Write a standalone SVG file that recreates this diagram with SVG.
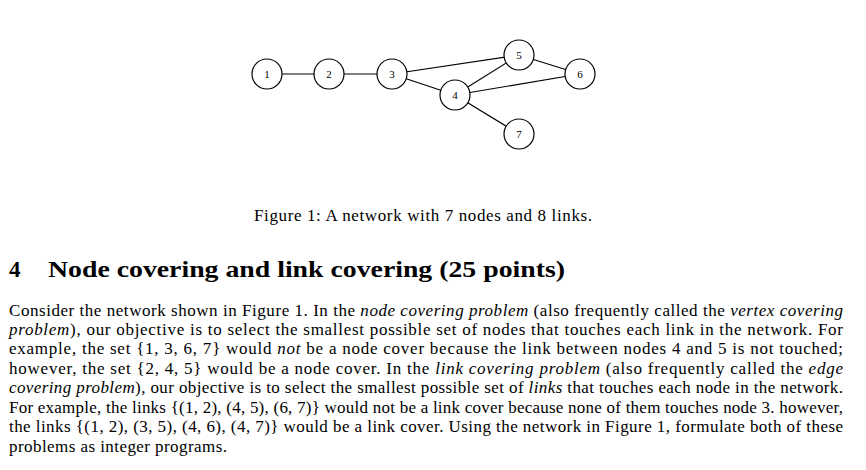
<svg xmlns="http://www.w3.org/2000/svg" width="866" height="470" viewBox="0 0 866 470">
<style>
.n circle{fill:#fff;stroke:#000;stroke-width:1.2}
.n text{font:11px "Liberation Serif",serif;text-anchor:middle}
#edges line{stroke:#000;stroke-width:1.2}
.b{font:17px "Liberation Serif",serif}
.i{font-style:italic}
</style>
<rect width="866" height="470" fill="#fff"/>
<g id="edges">
<line x1="267" y1="74" x2="329" y2="74"/><line x1="329" y1="74" x2="392" y2="74"/>
<line x1="392" y1="74" x2="519" y2="55"/><line x1="392" y1="74" x2="455" y2="95"/>
<line x1="455" y1="95" x2="519" y2="55"/><line x1="519" y1="55" x2="580" y2="74"/>
<line x1="455" y1="95" x2="580" y2="74"/><line x1="455" y1="95" x2="519" y2="134"/>
</g>
<g id="n1" class="n"><circle cx="267" cy="74" r="15"/><text x="267" y="78">1</text></g>
<g id="n2" class="n"><circle cx="329" cy="74" r="15"/><text x="329" y="78">2</text></g>
<g id="n3" class="n"><circle cx="392" cy="74" r="15"/><text x="392" y="78">3</text></g>
<g id="n4" class="n"><circle cx="455" cy="95" r="15"/><text x="455" y="99">4</text></g>
<g id="n5" class="n"><circle cx="519" cy="55" r="15"/><text x="519" y="59">5</text></g>
<g id="n6" class="n"><circle cx="580" cy="74" r="15"/><text x="580" y="78">6</text></g>
<g id="n7" class="n"><circle cx="519" cy="134" r="15"/><text x="519" y="138">7</text></g>
<text class="b" x="254" y="221" textLength="338">Figure 1: A network with 7 nodes and 8 links.</text>
<text x="9" y="277" style="font:bold 23px 'Liberation Serif',serif">4</text>
<text x="48" y="277" textLength="517" lengthAdjust="spacingAndGlyphs" style="font:bold 23px 'Liberation Serif',serif">Node covering and link covering (25 points)</text>
<g class="b">
<text x="9" y="316" textLength="834" lengthAdjust="spacing">Consider the network shown in Figure 1. In the <tspan class="i">node covering problem</tspan> (also frequently called the <tspan class="i">vertex covering</tspan></text>
<text x="9" y="335" textLength="834" lengthAdjust="spacing"><tspan class="i">problem</tspan>), our objective is to select the smallest possible set of nodes that touches each link in the network. For</text>
<text x="9" y="354" textLength="834" lengthAdjust="spacing">example, the set {1, 3, 6, 7} would <tspan class="i">not</tspan> be a node cover because the link between nodes 4 and 5 is not touched;</text>
<text x="9" y="374" textLength="834" lengthAdjust="spacing">however, the set {2, 4, 5} would be a node cover. In the <tspan class="i">link covering problem</tspan> (also frequently called the <tspan class="i">edge</tspan></text>
<text x="9" y="393" textLength="834" lengthAdjust="spacing"><tspan class="i">covering problem</tspan>), our objective is to select the smallest possible set of <tspan class="i">links</tspan> that touches each node in the network.</text>
<text x="9" y="413" textLength="834" lengthAdjust="spacing">For example, the links {(1, 2), (4, 5), (6, 7)} would not be a link cover because none of them touches node 3. however,</text>
<text x="9" y="432" textLength="834" lengthAdjust="spacing">the links {(1, 2), (3, 5), (4, 6), (4, 7)} would be a link cover. Using the network in Figure 1, formulate both of these</text>
<text x="9" y="452" textLength="218" lengthAdjust="spacing">problems as integer programs.</text>
</g>
</svg>
